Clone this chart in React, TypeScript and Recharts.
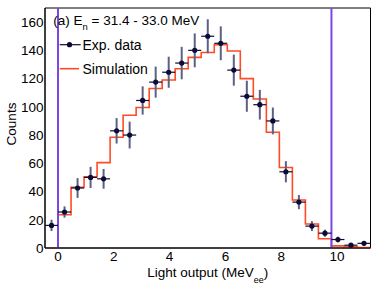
import React from 'react';
import {
  ComposedChart,
  Line,
  Scatter,
  ErrorBar,
  XAxis,
  YAxis,
  ReferenceLine,
  ReferenceArea,
  Legend,
  Label,
} from 'recharts';

// ---- data ----
const binCenters = [
  -0.233, 0.233, 0.7, 1.167, 1.633, 2.1, 2.567, 3.033, 3.5, 3.967, 4.433, 4.9, 5.367,
  5.833, 6.3, 6.767, 7.233, 7.7, 8.167, 8.633, 9.1, 9.567, 10.033, 10.5, 10.967,
];
const binHalfWidths = [
  0.233, 0.233, 0.233, 0.233, 0.233, 0.233, 0.233, 0.233, 0.233, 0.233, 0.233, 0.233, 0.233,
  0.233, 0.233, 0.233, 0.233, 0.233, 0.233, 0.233, 0.233, 0.233, 0.233, 0.233, 0.233,
];
const expCounts = [
  16, 25.5, 42.5, 50, 49, 83, 80, 104.5, 117.5, 124.5, 131, 140, 150, 145, 126, 107.5, 101.5,
  90, 54, 32.5, 15.5, 10.5, 6, 2, 3.3,
];
const expErrors = [
  4, 4, 7, 7.5, 7, 9, 9.5, 10, 11, 11, 11.5, 12, 12, 12, 11, 11, 10.5, 9.5, 7.5, 5, 3.5, 2.5,
  2, 1.2, 1.5,
];
const binEdges = [
  -0.467, 0, 0.467, 0.933, 1.4, 1.867, 2.333, 2.8, 3.267, 3.733, 4.2, 4.667, 5.133, 5.6, 6.067,
  6.533, 7.0, 7.467, 7.933, 8.4, 8.867, 9.333, 9.8, 10.267, 10.733, 11.2,
];
const simCounts = [
  0, 23.5, 43, 50.5, 60.5, 78.5, 94, 99.5, 113, 119, 127, 135, 138.5, 144, 139.5, 120, 105.5,
  82, 57, 34, 17, 6.5, 1.5, 0.8, 0.3,
];
const cutLines = [0, 9.8];

const xDomain = [-0.467, 11.2];
const yDomain = [0, 170];
const xMajorTicks = [0, 2, 4, 6, 8, 10];
const xMinorTicks = [0.5, 1, 1.5, 2.5, 3, 3.5, 4.5, 5, 5.5, 6.5, 7, 7.5, 8.5, 9, 9.5, 10.5, 11];
const yMajorTicks = [0, 20, 40, 60, 80, 100, 120, 140, 160];
const yMinorTicks = [
  5, 10, 15, 25, 30, 35, 45, 50, 55, 65, 70, 75, 85, 90, 95, 105, 110, 115, 125, 130, 135, 145,
  150, 155, 165,
];
const legendOrder = ['Exp. data', 'Simulation'];

const expData = binCenters.map((x, i) => ({
  x,
  y: expCounts[i],
  ey: expErrors[i],
  ex: binHalfWidths[i],
}));
const simData = binEdges.map((x, i) => ({
  x,
  sim: simCounts[Math.min(i, simCounts.length - 1)],
}));

const FONT = '"Liberation Sans", Arial, Helvetica, sans-serif';
const DATA_COLOR = '#0b0b35';
const SIM_COLOR = '#ff4b26';
const CUT_COLOR = '#7a46e2';

const XTitle = (props: any) => {
  const vb = props.viewBox || {};
  const cx = vb.x + vb.width / 2;
  const cy = vb.y + 28.5;
  return (
    <text x={cx} y={cy} textAnchor="middle" fontFamily={FONT} fontSize={13.5} fill="#000">
      Light output (MeV
      <tspan dy={6} fontSize={9}>ee</tspan>
      <tspan dy={-6}>)</tspan>
    </text>
  );
};

const YTitle = (props: any) => {
  const vb = props.viewBox || {};
  const cx = vb.x + 15.5;
  const cy = vb.y + vb.height / 2 - 4;
  return (
    <text
      x={cx}
      y={cy}
      textAnchor="middle"
      transform={`rotate(-90 ${cx} ${cy})`}
      fontFamily={FONT}
      fontSize={13.5}
      fill="#000"
    >
      Counts
    </text>
  );
};

const renderLegend = (props: any) => {
  const payload = [...(props.payload || [])].sort(
    (a: any, b: any) => legendOrder.indexOf(a.value) - legendOrder.indexOf(b.value)
  );
  return (
    <svg width={220} height={72} style={{ display: 'block', overflow: 'visible' }}>
      <text x={3.3} y={17.3} fontFamily={FONT} fontSize={13.5} fill="#000">
        (a) E<tspan dy={5} fontSize={9.5}>n</tspan>
        <tspan dy={-5}> = 31.4 - 33.0 MeV</tspan>
      </text>
      {payload.map((entry: any, i: number) => {
        const y = 36.7 + i * 24;
        const isData = entry.value === 'Exp. data';
        return (
          <g key={entry.value}>
            <line
              x1={9.7}
              x2={isData ? 30.7 : 29}
              y1={y}
              y2={y}
              stroke={isData ? DATA_COLOR : SIM_COLOR}
              strokeWidth={isData ? 1.2 : 1.6}
            />
            {isData && <circle cx={19.5} cy={y} r={2.6} fill={DATA_COLOR} />}
            <text x={32.5} y={y + 5.5} fontFamily={FONT} fontSize={14} fill="#000">
              {entry.value}
            </text>
          </g>
        );
      })}
    </svg>
  );
};

const DataDot = (props: any) => <circle cx={props.cx} cy={props.cy} r={2.6} fill={DATA_COLOR} />;

export default function App() {
  return (
    <div style={{ position: 'absolute', left: 0, top: 0, width: 382, height: 286, background: '#fff' }}>
      <ComposedChart
        width={382}
        height={286}
        margin={{ top: 8, right: 11.5, bottom: 0, left: 0 }}
        style={{ background: '#fff' }}
      >
        <XAxis
          xAxisId="main"
          dataKey="x"
          type="number"
          domain={xDomain}
          allowDataOverflow
          ticks={xMajorTicks}
          interval={0}
          height={38}
          tickLine={false}
          tickSize={0}
          tickMargin={3}
          axisLine={{ stroke: '#000', strokeWidth: 1 }}
          tick={{ fontFamily: FONT, fontSize: 13.5, fill: '#000' }}
        >
          <Label content={<XTitle />} />
        </XAxis>
        <XAxis
          xAxisId="major"
          dataKey="x"
          type="number"
          domain={xDomain}
          allowDataOverflow
          ticks={xMajorTicks}
          interval={0}
          mirror
          height={1}
          tickSize={7}
          tick={false}
          axisLine={false}
          tickLine={{ stroke: '#000', strokeWidth: 1 }}
        />
        <XAxis
          xAxisId="minor"
          dataKey="x"
          type="number"
          domain={xDomain}
          allowDataOverflow
          ticks={xMinorTicks}
          interval={0}
          mirror
          height={1}
          tickSize={3.5}
          tick={false}
          axisLine={false}
          tickLine={{ stroke: '#000', strokeWidth: 1 }}
        />
        <YAxis
          yAxisId="main"
          type="number"
          domain={yDomain}
          allowDataOverflow
          ticks={yMajorTicks}
          interval={0}
          width={45}
          tickLine={false}
          tickSize={0}
          tickMargin={1.5}
          axisLine={{ stroke: '#000', strokeWidth: 1 }}
          tick={{ fontFamily: FONT, fontSize: 13.5, fill: '#000' }}
        >
          <Label content={<YTitle />} />
        </YAxis>
        <YAxis
          yAxisId="major"
          type="number"
          domain={yDomain}
          allowDataOverflow
          ticks={yMajorTicks}
          interval={0}
          mirror
          width={1}
          tickSize={7}
          tick={false}
          axisLine={false}
          tickLine={{ stroke: '#000', strokeWidth: 1 }}
        />
        <YAxis
          yAxisId="minor"
          type="number"
          domain={yDomain}
          allowDataOverflow
          ticks={yMinorTicks}
          interval={0}
          mirror
          width={1}
          tickSize={3.5}
          tick={false}
          axisLine={false}
          tickLine={{ stroke: '#000', strokeWidth: 1 }}
        />
        <ReferenceArea
          xAxisId="main"
          yAxisId="main"
          x1={xDomain[0]}
          x2={xDomain[1]}
          y1={yDomain[0]}
          y2={yDomain[1]}
          fill="none"
          fillOpacity={0}
          stroke="#000"
          strokeWidth={1}
          ifOverflow="visible"
        />
        <Line
          xAxisId="main"
          yAxisId="main"
          data={simData}
          dataKey="sim"
          name="Simulation"
          type="stepAfter"
          stroke={SIM_COLOR}
          strokeWidth={1.6}
          dot={false}
          activeDot={false}
          legendType="line"
          isAnimationActive={false}
        />
        {cutLines.map((c) => (
          <ReferenceLine
            key={c}
            xAxisId="main"
            yAxisId="main"
            x={c}
            stroke={CUT_COLOR}
            strokeWidth={2}
          />
        ))}
        <Scatter
          xAxisId="main"
          yAxisId="main"
          data={expData}
          dataKey="y"
          name="Exp. data"
          fill={DATA_COLOR}
          shape={<DataDot />}
          legendType="circle"
          isAnimationActive={false}
        >
          <ErrorBar dataKey="ey" direction="y" width={0} stroke="#5d6080" strokeWidth={2} isAnimationActive={false} />
          <ErrorBar dataKey="ex" direction="x" width={0} stroke={DATA_COLOR} strokeWidth={1.2} isAnimationActive={false} />
        </Scatter>
        <Legend
          layout="horizontal"
          verticalAlign="middle"
          align="center"
          width={220}
          height={72}
          wrapperStyle={{ left: 50, top: 8, width: 220, height: 72 }}
          content={renderLegend}
        />
      </ComposedChart>
    </div>
  );
}
